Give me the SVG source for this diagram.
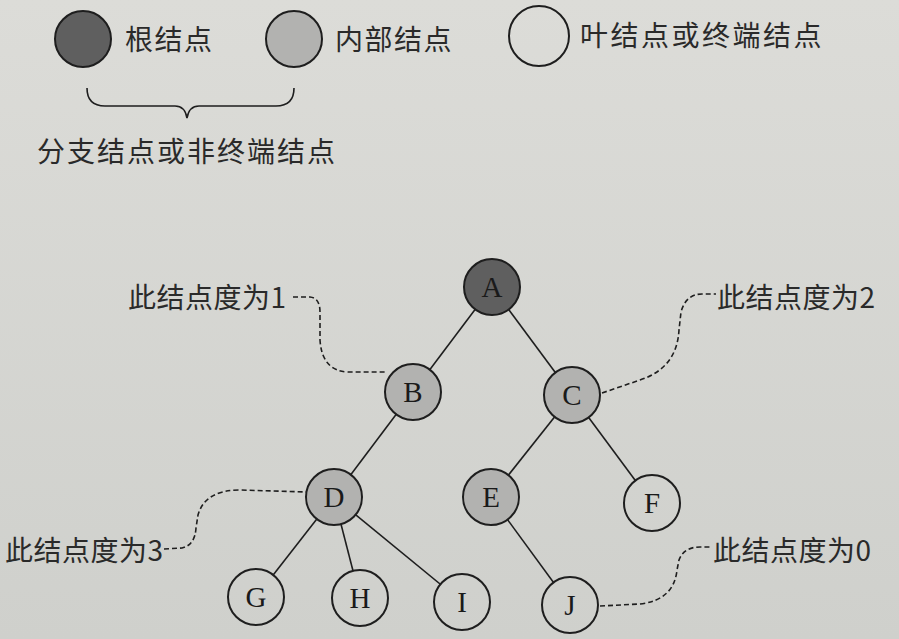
<svg xmlns="http://www.w3.org/2000/svg" width="899" height="639" viewBox="0 0 899 639">
  <defs>
    <linearGradient id="bg" gradientUnits="userSpaceOnUse" x1="0" y1="0" x2="0" y2="639">
      <stop offset="0" stop-color="#dcdcd8"/>
      <stop offset="1" stop-color="#cfd0cc"/>
    </linearGradient>
  </defs>
  <style>
    .cjk { font-family: "Noto Sans CJK SC", "Noto Sans", sans-serif; font-size: 28px; fill: #2a2a2a; }
    .lbl { font-family: "Liberation Serif", "DejaVu Serif", serif; font-size: 29px; fill: #1a1a1a; text-anchor: middle; }
    .root { fill: #5f5f5f; stroke: #1e1e1e; stroke-width: 2; }
    .inner { fill: #b2b2b0; stroke: #1e1e1e; stroke-width: 2; }
    .leaf { fill: url(#bg); stroke: #1e1e1e; stroke-width: 2; }
    .edge { stroke: #1e1e1e; stroke-width: 1.6; fill: none; }
    .lead { stroke: #1e1e1e; stroke-width: 1.6; fill: none; stroke-dasharray: 5 3; }
  </style>
  <rect x="0" y="0" width="899" height="639" fill="url(#bg)"/>

  <g id="legend">
    <circle class="root" cx="83" cy="39" r="28"/>
    <text class="cjk" x="125" y="50" letter-spacing="1.5">根结点</text>
    <circle class="inner" cx="294" cy="39" r="28"/>
    <text class="cjk" x="335" y="50" letter-spacing="1.5">内部结点</text>
    <circle class="leaf" cx="539" cy="36" r="30"/>
    <text class="cjk" x="580" y="46" letter-spacing="2.5">叶结点或终端结点</text>
    <path class="edge" d="M87,88 Q87,106 105,106 L175,106 Q185,106 187,118 Q189,106 199,106 L276,106 Q294,106 294,88"/>
    <text class="cjk" x="37" y="162" letter-spacing="2">分支结点或非终端结点</text>
  </g>

  <g id="connectors">
    <line class="edge" x1="492" y1="287" x2="413" y2="392"/>
    <line class="edge" x1="492" y1="287" x2="572" y2="395"/>
    <line class="edge" x1="413" y1="392" x2="334" y2="497"/>
    <line class="edge" x1="572" y1="395" x2="491" y2="497"/>
    <line class="edge" x1="572" y1="395" x2="652" y2="503"/>
    <line class="edge" x1="334" y1="497" x2="256" y2="597"/>
    <line class="edge" x1="334" y1="497" x2="360" y2="598"/>
    <line class="edge" x1="334" y1="497" x2="462" y2="602"/>
    <line class="edge" x1="491" y1="497" x2="570" y2="605"/>
    <path class="lead" d="M293,297 L310,297 Q320,298 320,312 L320,340 Q322,371 348,372 L386,372"/>
    <path class="lead" d="M164,549 L182,548 Q195,545 196,528 L198,515 Q205,490 240,490 L307,492"/>
    <path class="lead" d="M602,393 L640,380 Q677,368 679,330 L681,312 Q686,294 702,294 L716,294"/>
    <path class="lead" d="M600,606 L640,604 Q674,600 677,570 L679,560 Q684,547 700,547 L712,547"/>
  </g>

  <g id="label-1"><text class="cjk" x="128" y="308" letter-spacing="0.5">此结点度为1</text></g>
  <g id="label-2"><text class="cjk" x="717" y="308" letter-spacing="0.5">此结点度为2</text></g>
  <g id="label-3"><text class="cjk" x="5" y="561" letter-spacing="0.5">此结点度为3</text></g>
  <g id="label-0"><text class="cjk" x="713" y="561" letter-spacing="0.5">此结点度为0</text></g>

  <g id="node-A"><circle class="root" cx="492" cy="287" r="28"/><text class="lbl" x="492" y="297">A</text></g>
  <g id="node-B"><circle class="inner" cx="413" cy="392" r="28"/><text class="lbl" x="413" y="402">B</text></g>
  <g id="node-C"><circle class="inner" cx="572" cy="395" r="28"/><text class="lbl" x="572" y="405">C</text></g>
  <g id="node-D"><circle class="inner" cx="334" cy="497" r="28"/><text class="lbl" x="334" y="507">D</text></g>
  <g id="node-E"><circle class="inner" cx="491" cy="497" r="28"/><text class="lbl" x="491" y="507">E</text></g>
  <g id="node-F"><circle class="leaf" cx="652" cy="503" r="28"/><text class="lbl" x="652" y="513">F</text></g>
  <g id="node-G"><circle class="leaf" cx="256" cy="597" r="28"/><text class="lbl" x="256" y="607">G</text></g>
  <g id="node-H"><circle class="leaf" cx="360" cy="598" r="28"/><text class="lbl" x="360" y="608">H</text></g>
  <g id="node-I"><circle class="leaf" cx="462" cy="602" r="28"/><text class="lbl" x="462" y="612">I</text></g>
  <g id="node-J"><circle class="leaf" cx="570" cy="605" r="28"/><text class="lbl" x="570" y="615">J</text></g>
</svg>
